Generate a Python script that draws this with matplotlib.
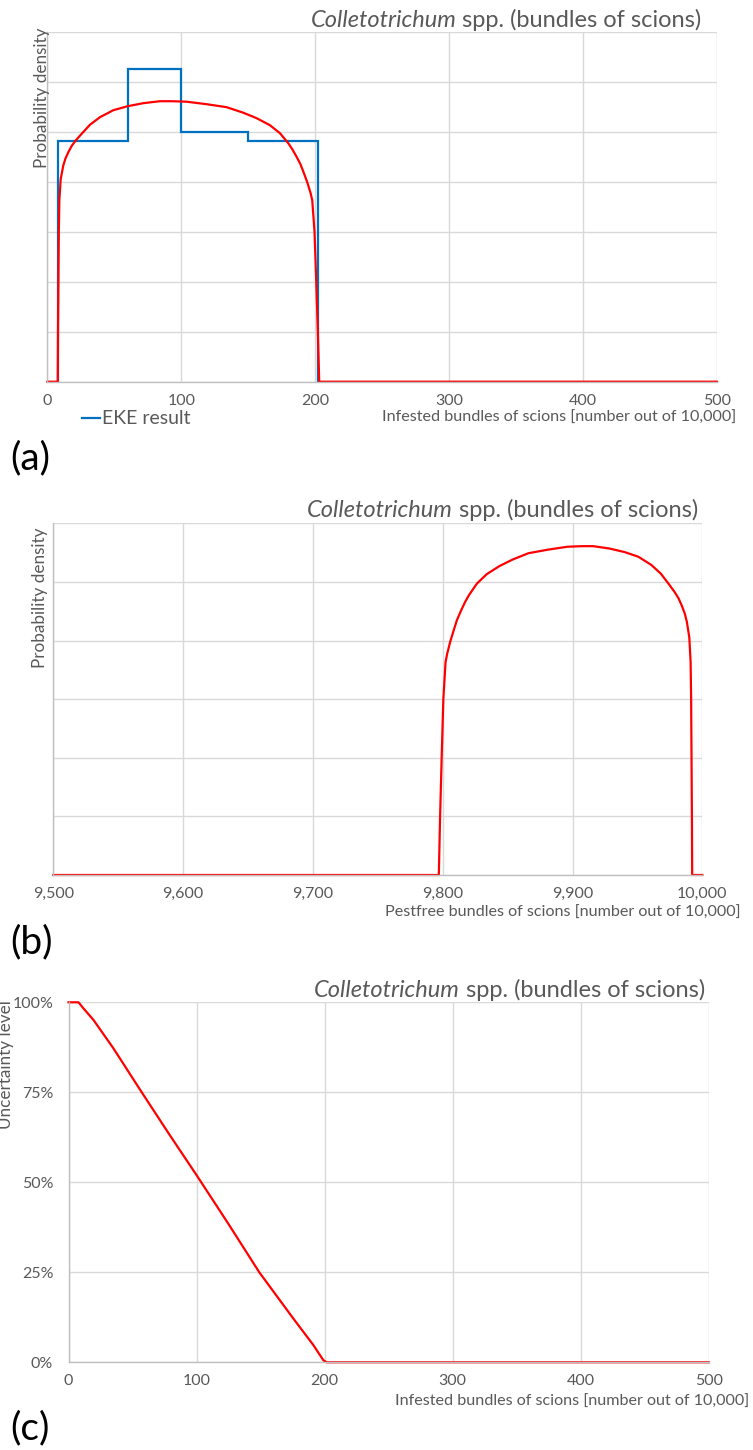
"""Colletotrichum spp. on bundles of scions: EKE result, fitted density and
uncertainty curve, stacked as panels (a), (b) and (c)."""
import matplotlib

matplotlib.use("Agg")
import matplotlib.pyplot as plt
from matplotlib.lines import Line2D
from matplotlib.ticker import FuncFormatter, MultipleLocator

W, H = 753, 1450

TEXT = "#595959"
GRID = "#d9d9d9"
AXIS = "#bfbfbf"
RED = "#ff0000"
BLUE = "#0070c0"

plt.rcParams.update(
    {
        "font.family": ["Lato", "DejaVu Sans"],
        "font.size": 11,
        "text.color": TEXT,
    }
)

# EKE elicitation: bin edges (infested bundles per 10,000) and step density
EKE_EDGES = [8, 60, 100, 150, 202]
EKE_DENS = [0.00481, 0.00625, 0.00500, 0.00481]

# Fitted distribution, density per infested bundle (x 1e-3)
INFESTED = [0, 7.8, 8.0, 8.3, 8.6, 9.0, 10.0, 11.9, 13.5, 15.7, 18.3, 21.4,
            25.7, 31.9, 39.3, 49.3, 60.0, 71.6, 84.1, 92.8, 104.0, 119.0,
            133.9, 146.3, 156.3, 166.2, 173.7, 179.9, 182.9, 186.1, 189.0,
            191.6, 194.2, 196.6, 197.8, 199.5, 200.8, 202.0, 203.0, 500]
DENSITY_E3 = [0, 0, 1.0, 2.0, 3.0, 3.63, 4.05, 4.32, 4.46, 4.59, 4.72, 4.83,
              4.96, 5.14, 5.29, 5.43, 5.51, 5.57, 5.61, 5.61, 5.60, 5.55,
              5.49, 5.38, 5.27, 5.13, 4.97, 4.77, 4.65, 4.50, 4.35,
              4.17, 3.98, 3.77, 3.63, 3.0, 2.0, 1.0, 0, 0]

# Uncertainty level (exceedance) against infested bundles
UNC_X = [0, 7.8, 11.7, 19.5, 35.1, 57.2, 79.3, 100.0, 124.8, 149.0, 175.5,
         191.2, 196.4, 199.0, 201.6, 500]
UNC_Y = [1.0, 1.0, 0.983, 0.951, 0.872, 0.75, 0.630, 0.520, 0.385, 0.25,
         0.122, 0.048, 0.020, 0.006, 0.0, 0.0]

TOTAL = 10000
DENSITY = [d / 1000 for d in DENSITY_E3]
PESTFREE = [TOTAL - x for x in INFESTED]


def box(left, top, right, bottom):
    return [left / W, 1 - bottom / H, (right - left) / W, (bottom - top) / H]


def at(x, y):
    return x / W, 1 - y / H


def style(ax, xlim, xstep, ylim, ystep):
    ax.set_xlim(*xlim)
    ax.set_ylim(*ylim)
    ax.xaxis.set_major_locator(MultipleLocator(xstep))
    ax.yaxis.set_major_locator(MultipleLocator(ystep))
    ax.grid(True, color=GRID, linewidth=1.0)
    ax.set_axisbelow(True)
    for side in ("top", "right"):
        ax.spines[side].set_visible(False)
    for side in ("left", "bottom"):
        ax.spines[side].set_color(AXIS)
        ax.spines[side].set_linewidth(1.0)
    ax.tick_params(length=0, colors=TEXT, labelsize=11.5)
    ax.tick_params(axis="x", pad=8.5)
    ax.tick_params(axis="y", pad=11)


def title(ax, x, y):
    t = fig.text(*at(x, y), " spp. (bundles of scions)", ha="right",
                 va="center", fontsize=17, color=TEXT)
    ax.annotate("Colletotrichum", xy=(0, 0), xycoords=t, ha="right",
                va="bottom", fontsize=17, fontstyle="italic", color=TEXT,
                annotation_clip=False)


def ylabel(x, y, text):
    fig.text(*at(x, y), text, rotation=90, ha="center", va="top",
             fontsize=12.3)


def xlabel(x, y, text):
    fig.text(*at(x, y), text, ha="right", va="center", fontsize=11.6)


def panel_tag(y, text):
    fig.text(*at(10, y), text, ha="left", va="center", fontsize=28,
             color="black")


fig = plt.figure(figsize=(W / 100, H / 100), dpi=100)

# (a) EKE result and fitted density
ax_a = fig.add_axes(box(47.3, 31.7, 717, 381.7))
style(ax_a, (0, 500), 100, (0, 0.007), 0.001)
ax_a.tick_params(axis="y", labelleft=False)
ax_a.stairs(EKE_DENS, EKE_EDGES, baseline=0, color=BLUE, linewidth=1.6)
ax_a.plot(INFESTED, DENSITY, color=RED, linewidth=1.6, clip_on=False)
title(ax_a, 701.7, 20)
ylabel(41.7, 28, "Probability density")
xlabel(736.7, 418, "Infested bundles of scions [number out of 10,000]")
fig.legend(handles=[Line2D([], [], color=BLUE, linewidth=1.6)],
           labels=["EKE result"], loc="center left",
           bbox_to_anchor=at(82, 419), frameon=False, fontsize=14,
           handlelength=0.95, handletextpad=0.1, borderpad=0,
           borderaxespad=0, labelcolor=TEXT)
panel_tag(458, "(a)")

# (b) Pest-free bundles (mirror of infested)
ax_b = fig.add_axes(box(53.3, 523.3, 702.3, 875))
style(ax_b, (9500, 10000), 100, (0, 0.006), 0.001)
ax_b.tick_params(axis="y", labelleft=False)
ax_b.xaxis.set_major_formatter(FuncFormatter(lambda v, _: f"{v:,.0f}"))
ax_b.plot(PESTFREE, DENSITY, color=RED, linewidth=1.6, clip_on=False)
title(ax_b, 698.3, 510)
ylabel(40, 527, "Probability density")
xlabel(740.7, 912.7, "Pestfree bundles of scions [number out of 10,000]")
panel_tag(942, "(b)")

# (c) Uncertainty level
ax_c = fig.add_axes(box(68.5, 1002.3, 708.7, 1362.3))
style(ax_c, (0, 500), 100, (0, 1), 0.25)
ax_c.yaxis.set_major_formatter(FuncFormatter(lambda v, _: f"{v:.0%}"))
ax_c.plot(UNC_X, UNC_Y, color=RED, linewidth=1.6, clip_on=False)
title(ax_c, 705, 990)
ylabel(6, 1000, "Uncertainty level")
xlabel(749.3, 1401.7, "Infested bundles of scions [number out of 10,000]")
panel_tag(1428, "(c)")

fig.savefig("out.png", dpi=100)
